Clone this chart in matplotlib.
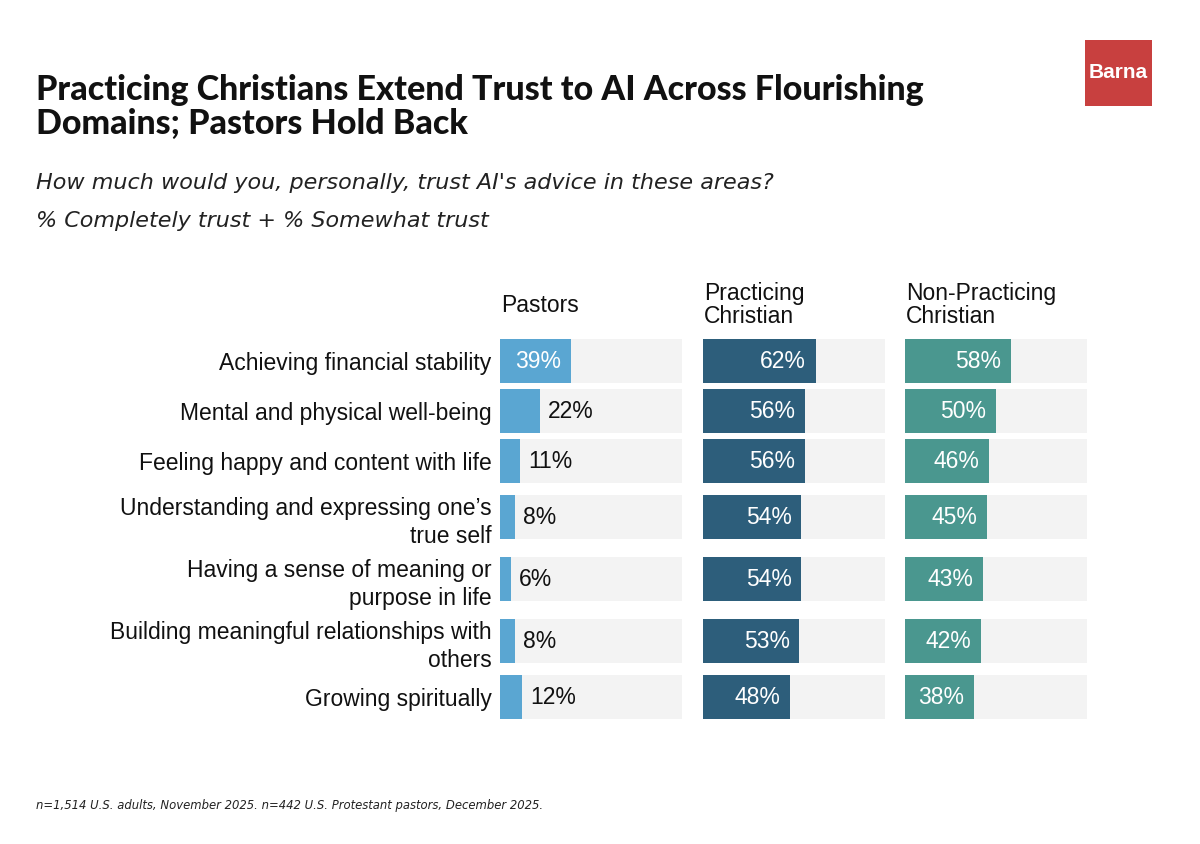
import matplotlib.pyplot as plt
from matplotlib.patches import Rectangle

# data
categories = [
    "Achieving financial stability",
    "Mental and physical well-being",
    "Feeling happy and content with life",
    "Understanding and expressing one\u2019s\ntrue self",
    "Having a sense of meaning or\npurpose in life",
    "Building meaningful relationships with\nothers",
    "Growing spiritually",
]
groups = ["Pastors", "Practicing\nChristian", "Non-Practicing\nChristian"]
pastors = [39, 22, 11, 8, 6, 8, 12]
practicing = [62, 56, 56, 54, 54, 53, 48]
non_practicing = [58, 50, 46, 45, 43, 42, 38]
series = [pastors, practicing, non_practicing]
colors = ["#5aa6d2", "#2d5e7b", "#4a978f"]

W, H = 1200, 844
fig = plt.figure(figsize=(W / 100, H / 100), dpi=100)
fig.patch.set_facecolor("white")

def fx(px):
    return px / W

def fy(py):
    return 1 - py / H

# row centres in pixel units, two-line labels get more room
nlines = [c.count("\n") + 1 for c in categories]
ys = [0]
for i in range(1, len(categories)):
    ys.append(ys[-1] + 50 + 6 * (nlines[i - 1] - 1) + 6 * (nlines[i] - 1))
bh = 44
top = ys[0] - bh / 2
bot = ys[-1] + bh / 2
span = bot - top
ax_top_px = 339

lefts = [500, 703, 905]
width_px = 182
for k, (vals, col, grp) in enumerate(zip(series, colors, groups)):
    ax = fig.add_axes([fx(lefts[k]), fy(ax_top_px + span), width_px / W, span / H])
    ax.barh(ys, [100] * len(ys), height=bh, color="#f3f3f3", zorder=1)
    ax.barh(ys, vals, height=bh, color=col, zorder=2)
    ax.set_xlim(0, 100)
    ax.set_ylim(bot, top)
    for s in ax.spines.values():
        s.set_visible(False)
    ax.set_xticks([])
    if k == 0:
        ax.set_yticks(ys)
        ax.set_yticklabels(categories, fontsize=16.5, family="Liberation Sans",
                           color="#111111", linespacing=1.32)
        ax.tick_params(axis="y", length=0, pad=6)
    else:
        ax.set_yticks([])
    for y, v in zip(ys, vals):
        if v >= 30:
            ax.annotate(f"{v}%", (v, y), xytext=(-7, 0), textcoords="offset points",
                        ha="right", va="center", color="white", fontsize=16.5,
                        family="Liberation Sans")
        else:
            ax.annotate(f"{v}%", (v, y), xytext=(6, 0), textcoords="offset points",
                        ha="left", va="center", color="#111111", fontsize=16.5,
                        family="Liberation Sans")
    fig.text(fx(lefts[k] + 1), fy(305), grp, ha="left", va="center", fontsize=16.5,
             family="Liberation Sans", color="#111111", linespacing=0.95)

# titles
fig.text(fx(36), fy(107), "Practicing Christians Extend Trust to AI Across Flourishing\nDomains; Pastors Hold Back",
         ha="left", va="center", fontsize=24.5, fontweight="black", family="Lato",
         color="#111111", linespacing=1.1)
fig.text(fx(36), fy(183), "How much would you, personally, trust AI's advice in these areas?",
         ha="left", va="center", fontsize=16, style="italic", family="DejaVu Sans", color="#222222")
fig.text(fx(36), fy(221), "% Completely trust + % Somewhat trust",
         ha="left", va="center", fontsize=16, style="italic", family="DejaVu Sans", color="#222222")
fig.text(fx(36), fy(806), "n=1,514 U.S. adults, November 2025. n=442 U.S. Protestant pastors, December 2025.",
         ha="left", va="center", fontsize=8.4, style="italic", family="DejaVu Sans", color="#222222")

# logo
fig.patches.append(Rectangle((fx(1085), fy(106)), 67 / W, 66 / H, transform=fig.transFigure,
                             facecolor="#c8403f", edgecolor="none"))
fig.text(fx(1118.5), fy(72), "Barna", ha="center", va="center", fontsize=15,
         fontweight="bold", family="Liberation Sans", color="white")

fig.savefig("out.png", dpi=100)
